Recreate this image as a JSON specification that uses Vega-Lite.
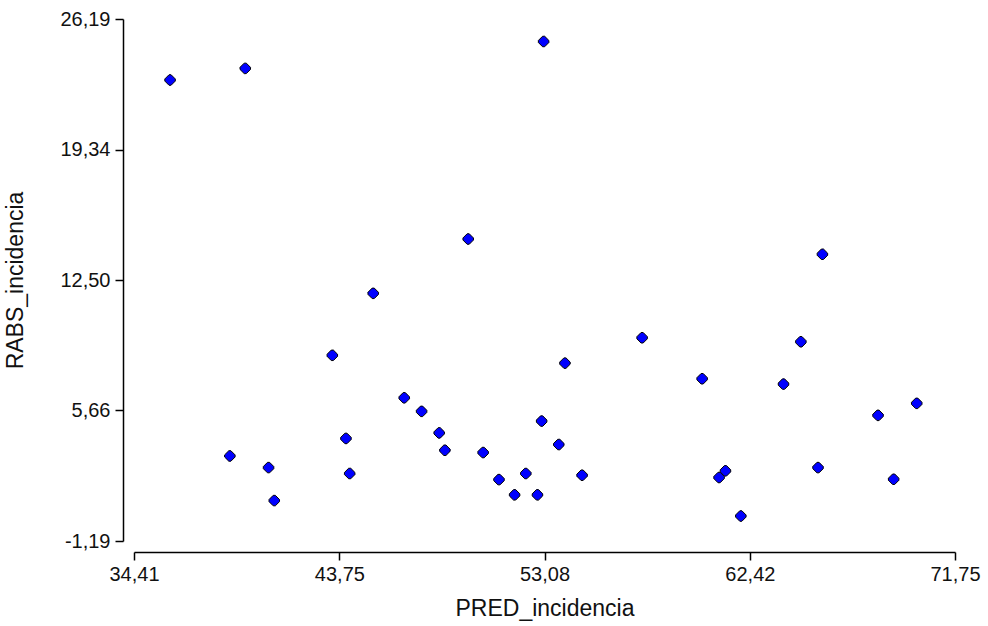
{
  "$schema": "https://vega.github.io/schema/vega-lite/v6.json",
  "width": 821,
  "height": 522,
  "autosize": {"type": "none"},
  "padding": {"left": 134, "top": 19, "right": 33, "bottom": 85},
  "background": "white",
  "config": {
    "view": {"stroke": null},
    "axis": {
      "grid": false,
      "domainColor": "#000",
      "domainWidth": 1.5,
      "tickColor": "#000",
      "tickWidth": 1.5,
      "tickSize": 8,
      "labelFont": "Liberation Sans",
      "labelFontSize": 20,
      "labelColor": "#111",
      "titleFont": "Liberation Sans",
      "titleFontSize": 23,
      "titleFontWeight": "normal",
      "titleColor": "#111"
    }
  },
  "data": {
    "values": [
      {"PRED_incidencia": 36.05, "RABS_incidencia": 22.99},
      {"PRED_incidencia": 39.47, "RABS_incidencia": 23.60},
      {"PRED_incidencia": 45.29, "RABS_incidencia": 11.80},
      {"PRED_incidencia": 43.43, "RABS_incidencia": 8.55},
      {"PRED_incidencia": 46.70, "RABS_incidencia": 6.32},
      {"PRED_incidencia": 47.49, "RABS_incidencia": 5.61},
      {"PRED_incidencia": 48.29, "RABS_incidencia": 4.48},
      {"PRED_incidencia": 48.55, "RABS_incidencia": 3.57},
      {"PRED_incidencia": 44.05, "RABS_incidencia": 4.19},
      {"PRED_incidencia": 44.22, "RABS_incidencia": 2.35},
      {"PRED_incidencia": 38.77, "RABS_incidencia": 3.27},
      {"PRED_incidencia": 40.53, "RABS_incidencia": 2.66},
      {"PRED_incidencia": 40.79, "RABS_incidencia": 0.93},
      {"PRED_incidencia": 53.04, "RABS_incidencia": 25.01},
      {"PRED_incidencia": 49.61, "RABS_incidencia": 14.65},
      {"PRED_incidencia": 57.52, "RABS_incidencia": 9.47},
      {"PRED_incidencia": 54.01, "RABS_incidencia": 8.14},
      {"PRED_incidencia": 52.95, "RABS_incidencia": 5.10},
      {"PRED_incidencia": 53.73, "RABS_incidencia": 3.87},
      {"PRED_incidencia": 50.29, "RABS_incidencia": 3.45},
      {"PRED_incidencia": 51.01, "RABS_incidencia": 2.03},
      {"PRED_incidencia": 52.23, "RABS_incidencia": 2.35},
      {"PRED_incidencia": 51.72, "RABS_incidencia": 1.23},
      {"PRED_incidencia": 52.76, "RABS_incidencia": 1.23},
      {"PRED_incidencia": 54.79, "RABS_incidencia": 2.26},
      {"PRED_incidencia": 65.72, "RABS_incidencia": 13.85},
      {"PRED_incidencia": 64.74, "RABS_incidencia": 9.26},
      {"PRED_incidencia": 60.25, "RABS_incidencia": 7.32},
      {"PRED_incidencia": 63.95, "RABS_incidencia": 7.04},
      {"PRED_incidencia": 70.01, "RABS_incidencia": 6.03},
      {"PRED_incidencia": 68.25, "RABS_incidencia": 5.40},
      {"PRED_incidencia": 65.52, "RABS_incidencia": 2.66},
      {"PRED_incidencia": 68.96, "RABS_incidencia": 2.05},
      {"PRED_incidencia": 61.02, "RABS_incidencia": 2.14},
      {"PRED_incidencia": 61.31, "RABS_incidencia": 2.49},
      {"PRED_incidencia": 62.01, "RABS_incidencia": 0.12}
    ]
  },
  "mark": {
    "type": "point",
    "shape": "M-0.2,-1L0.2,-1L1,-0.2L1,0.2L0.2,1L-0.2,1L-1,0.2L-1,-0.2Z",
    "filled": true,
    "fill": "#0000ff",
    "stroke": "#000",
    "strokeWidth": 1,
    "size": 110,
    "opacity": 1
  },
  "encoding": {
    "x": {
      "field": "PRED_incidencia",
      "type": "quantitative",
      "scale": {"domain": [34.41, 71.75], "nice": false, "zero": false},
      "axis": {
        "title": "PRED_incidencia",
        "values": [34.41, 43.75, 53.08, 62.42, 71.75],
        "labelExpr": "replace(replace(format(datum.value, '.2f'), '.', ','), '\u2212', '-')",
        "offset": 11,
        "labelPadding": 4,
        "titlePadding": 13,
        "labelFlush": false,
        "labelOverlap": false
      }
    },
    "y": {
      "field": "RABS_incidencia",
      "type": "quantitative",
      "scale": {"domain": [-1.19, 26.19], "nice": false, "zero": false},
      "axis": {
        "title": "RABS_incidencia",
        "values": [-1.19, 5.66, 12.5, 19.34, 26.19],
        "labelExpr": "replace(replace(format(datum.value, '.2f'), '.', ','), '\u2212', '-')",
        "offset": 11,
        "labelPadding": 5,
        "titlePadding": 32,
        "labelFlush": false,
        "labelOverlap": false
      }
    }
  }
}
